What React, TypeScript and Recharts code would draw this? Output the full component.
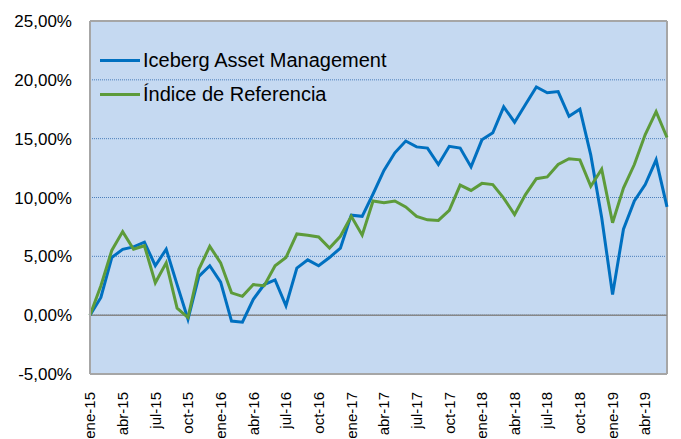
import { LineChart, Line, XAxis, YAxis, CartesianGrid, ReferenceLine, Legend } from 'recharts';

const months = [
    'ene-15', 'feb-15', 'mar-15', 'abr-15', 'may-15', 'jun-15', 'jul-15', 'ago-15', 'sep-15', 'oct-15', 'nov-15', 'dic-15',
    'ene-16', 'feb-16', 'mar-16', 'abr-16', 'may-16', 'jun-16', 'jul-16', 'ago-16', 'sep-16', 'oct-16', 'nov-16', 'dic-16',
    'ene-17', 'feb-17', 'mar-17', 'abr-17', 'may-17', 'jun-17', 'jul-17', 'ago-17', 'sep-17', 'oct-17', 'nov-17', 'dic-17',
    'ene-18', 'feb-18', 'mar-18', 'abr-18', 'may-18', 'jun-18', 'jul-18', 'ago-18', 'sep-18', 'oct-18', 'nov-18', 'dic-18',
    'ene-19', 'feb-19', 'mar-19', 'abr-19', 'may-19', 'jun-19',
];

// % acumulado
const iceberg = [
    0, 1.5, 4.9, 5.6, 5.8, 6.2, 4.2, 5.6, 2.6, -0.35, 3.3, 4.2,
    2.8, -0.5, -0.6, 1.35, 2.6, 3.0, 0.8, 4.0, 4.7, 4.2, 4.9, 5.7,
    8.5, 8.4, 10.3, 12.3, 13.8, 14.8, 14.3, 14.2, 12.8, 14.35, 14.2, 12.6,
    14.9, 15.5, 17.7, 16.4, 17.9, 19.4, 18.9, 19.0, 16.9, 17.5, 13.6, 8.3,
    1.76, 7.3, 9.7, 11.1, 13.2, 9.2,
];

const indice = [
    0, 2.5, 5.5, 7.1, 5.6, 5.9, 2.75, 4.45, 0.6, -0.2, 3.9, 5.85,
    4.45, 1.9, 1.6, 2.6, 2.5, 4.2, 4.9, 6.9, 6.8, 6.65, 5.7, 6.7,
    8.4, 6.8, 9.7, 9.55, 9.7, 9.2, 8.4, 8.1, 8.05, 8.9, 11.05, 10.6,
    11.2, 11.1, 9.95, 8.55, 10.25, 11.6, 11.75, 12.8, 13.3, 13.2, 10.95, 12.4,
    7.85, 10.8, 12.8, 15.35, 17.3, 15.1,
];

const yTicks = [-5, 0, 5, 10, 15, 20, 25];

const SERIES = [
    { key: 'iceberg', name: 'Iceberg Asset Management', color: '#0070C0' },
    { key: 'indice', name: 'Índice de Referencia', color: '#5D9B3A' },
];

const FONT = '"Liberation Sans", Arial, sans-serif';
const BORDER = '#A6A6A6';

const data = months.map((m, i) => ({ month: m, iceberg: iceberg[i], indice: indice[i] }));

const fmtPct = (v: number) => v.toFixed(2).replace('.', ',') + '%';

function MonthTick({ x, y, payload }: any) {
    return (
        <text
            x={x}
            y={y}
            transform={`rotate(-90, ${x}, ${y})`}
            textAnchor="end"
            dy="0.35em"
            fontSize={15}
            fontFamily={FONT}
            fill="#000"
        >
            {payload.value}
        </text>
    );
}

function LegendBox() {
    return (
        <div style={{ fontFamily: FONT, fontSize: 20, color: '#000' }}>
            {SERIES.map(s => (
                <div key={s.key} style={{ display: 'flex', alignItems: 'center', height: 34, whiteSpace: 'nowrap' }}>
                    <span style={{ display: 'inline-block', width: 40, height: 3, background: s.color, marginRight: 3 }} />
                    <span>{s.name}</span>
                </div>
            ))}
        </div>
    );
}

export default function App() {
    return (
        <div style={{ width: 681, height: 439, background: '#fff' }}>
            <style>{`body{margin:0}`}</style>
            <LineChart width={681} height={439} data={data} margin={{ top: 21, right: 14, bottom: 0, left: 0 }}>
                <CartesianGrid
                    fill="#C5D9F1"
                    vertical={false}
                    stroke="#4A7EBB"
                    strokeDasharray="1 1"
                />
                <XAxis
                    dataKey="month"
                    interval={2}
                    height={65}
                    tickLine={false}
                    tickSize={0}
                    tickMargin={18}
                    axisLine={{ stroke: BORDER, strokeWidth: 2 }}
                    tick={<MonthTick />}
                />
                <YAxis
                    domain={[-5, 25]}
                    ticks={yTicks}
                    width={90}
                    tickLine={false}
                    tickSize={0}
                    tickMargin={18}
                    tickFormatter={fmtPct}
                    axisLine={{ stroke: BORDER, strokeWidth: 2 }}
                    tick={{ fontSize: 17, fontFamily: FONT, fill: '#000' }}
                />
                <ReferenceLine y={25} stroke={BORDER} strokeWidth={2} />
                <ReferenceLine x="jun-19" stroke={BORDER} strokeWidth={2} />
                <ReferenceLine y={0} stroke="#878787" strokeWidth={1.5} />
                <Legend
                    layout="vertical"
                    verticalAlign="middle"
                    align="center"
                    content={<LegendBox />}
                    wrapperStyle={{ top: 43, left: 100, width: 300 }}
                />
                {SERIES.map(s => (
                    <Line
                        key={s.key}
                        type="linear"
                        dataKey={s.key}
                        name={s.name}
                        stroke={s.color}
                        strokeWidth={3}
                        dot={false}
                        isAnimationActive={false}
                    />
                ))}
            </LineChart>
        </div>
    );
}
